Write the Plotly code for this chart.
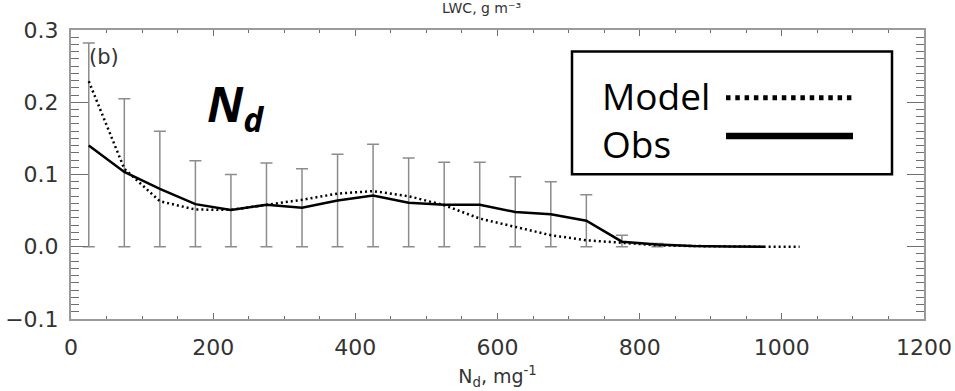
import plotly.graph_objects as go

# ---- data ----
bin_centers = [25, 75, 125, 175, 225, 275, 325, 375, 425, 475, 525,
               575, 625, 675, 725, 775, 825, 875, 925, 975, 1025]

obs_vals = [0.140, 0.1035, 0.080, 0.059, 0.051, 0.058, 0.054, 0.064, 0.071, 0.061,
            0.058, 0.058, 0.048, 0.045, 0.036, 0.007, 0.003, 0.001, 0.0005, 0.0]

model_vals = [0.229, 0.108, 0.063, 0.0515, 0.051, 0.0575, 0.065, 0.0736, 0.077, 0.070,
              0.0575, 0.039, 0.027, 0.016, 0.009, 0.0054, 0.002, 0.001, 0.0, 0.0, 0.0]

err_top = [0.282, 0.205, 0.160, 0.119, 0.100, 0.116, 0.108, 0.128, 0.142, 0.123,
           0.117, 0.117, 0.097, 0.090, 0.072, 0.016, 0.0045]
err_bottom = [0.0] * 17

x_ticks = [0, 200, 400, 600, 800, 1000, 1200]
y_ticks = [-0.1, 0.0, 0.1, 0.2, 0.3]

obs_x = bin_centers[:len(obs_vals)]
err_x = bin_centers[:len(err_top)]
err_mid = obs_vals[:len(err_top)]

AX = "#9a9a9a"
TXT = "#333333"

fig = go.Figure()

# error bars (gray, from 0 up to obs + spread)
fig.add_trace(go.Scatter(
    x=err_x, y=err_mid, mode="markers",
    marker=dict(size=1, color="rgba(0,0,0,0)"),
    error_y=dict(type="data", symmetric=False,
                 array=[t - m for t, m in zip(err_top, err_mid)],
                 arrayminus=[m - b for m, b in zip(err_mid, err_bottom)],
                 color="#8c8c8c", thickness=1.5, width=6),
    showlegend=False, hoverinfo="skip"))

# model (dotted)
fig.add_trace(go.Scatter(
    x=bin_centers, y=model_vals, mode="lines",
    line=dict(color="black", width=2.5, dash="2px,3px"),
    showlegend=False))

# obs (solid)
fig.add_trace(go.Scatter(
    x=obs_x, y=obs_vals, mode="lines",
    line=dict(color="black", width=2.5),
    showlegend=False))

# ---- layout geometry ----
L, R, T, B = 71, 924, 29.5, 319
W, H = 955, 391
def px(x):
    return (x - L) / (R - L)
def py(y):
    return (B - y) / (B - T)

shapes = [
    # legend box
    dict(type="rect", xref="paper", yref="paper",
         x0=px(572), x1=px(892), y0=py(174), y1=py(51),
         line=dict(color="black", width=2.5), fillcolor="white", layer="above"),
    # model sample line (dotted)
    dict(type="line", xref="paper", yref="paper",
         x0=px(726), x1=px(853), y0=py(97.3), y1=py(97.3),
         line=dict(color="black", width=5, dash="4.5px,4.8px")),
    # obs sample line (solid)
    dict(type="line", xref="paper", yref="paper",
         x0=px(726), x1=px(853), y0=py(135.7), y1=py(135.7),
         line=dict(color="black", width=6.5)),
]

annotations = [
    dict(text="Model", xref="paper", yref="paper", x=px(600), y=py(95),
         xanchor="left", yanchor="middle", showarrow=False,
         font=dict(family="Open Sans", size=37, color="black")),
    dict(text="Obs", xref="paper", yref="paper", x=px(600), y=py(143),
         xanchor="left", yanchor="middle", showarrow=False,
         font=dict(family="Open Sans", size=37, color="black")),
    dict(text="<b><i>N<sub>d</sub></i></b>", xref="paper", yref="paper",
         x=px(205), y=py(106), xanchor="left", yanchor="middle", showarrow=False,
         font=dict(family="Open Sans", size=48, color="black")),
    dict(text="(b)", xref="paper", yref="paper", x=px(87), y=py(57),
         xanchor="left", yanchor="middle", showarrow=False,
         font=dict(family="DejaVu Sans", size=21, color=TXT)),
    dict(text="LWC, g m⁻³", xref="paper", yref="paper",
         x=px(440), y=py(17), xanchor="left", yanchor="bottom", showarrow=False,
         font=dict(family="DejaVu Sans", size=14, color=TXT)),
]

axis_common = dict(showline=True, linecolor=AX, linewidth=2, mirror="ticks",
                   ticks="inside", tickcolor="#6f6f6f", tickwidth=1.3,
                   showgrid=False, zeroline=False, automargin=False,
                   tickfont=dict(family="DejaVu Sans", size=22, color=TXT))

fig.update_layout(
    width=W, height=H,
    margin=dict(l=L, r=W - R, t=T, b=H - B),
    paper_bgcolor="white", plot_bgcolor="white",
    showlegend=False,
    shapes=shapes, annotations=annotations,
    xaxis=dict(range=[0, 1200], tickvals=x_ticks, ticklen=6, ticklabelstandoff=8,
               minor=dict(dtick=50, tick0=0, ticklen=3, ticks="inside",
                          tickcolor="#6f6f6f", tickwidth=1.2, showgrid=False),
               title=dict(text="N<sub>d</sub>, mg<sup>-1</sup>", standoff=10,
                          font=dict(family="DejaVu Sans", size=19, color=TXT)),
               **axis_common),
    yaxis=dict(range=[-0.1, 0.3], tickvals=y_ticks, tickformat=".1f", ticklen=17,
               ticklabelstandoff=6,
               minor=dict(dtick=0.01, tick0=0, ticklen=8, ticks="inside",
                          tickcolor="#6f6f6f", tickwidth=1.2, showgrid=False),
               **axis_common),
)

fig.write_html("out.html")
